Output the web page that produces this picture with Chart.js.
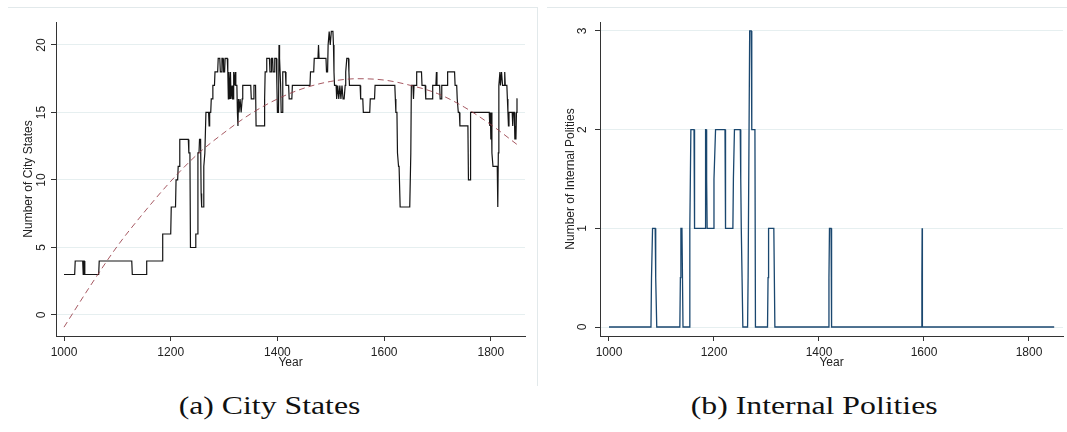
<!DOCTYPE html>
<html>
<head>
<meta charset="utf-8">
<script src="https://cdn.jsdelivr.net/npm/chart.js@4.4.1/dist/chart.umd.min.js"></script>
<style>
    html, body { margin: 0; padding: 0; background: #fff; }
    body { width: 1067px; height: 432px; position: relative; overflow: hidden; }
    .panel { position: absolute; top: 0; height: 385px; }
    .frame { position: absolute; border-color: #e2e9eb; border-style: solid; border-width: 0; }
    .caption { position: absolute; top: 392px; width: 400px; text-align: center;
               font-family: 'Liberation Serif', 'Times New Roman', serif; font-size: 25px; color: #111; }
    .caption span { display: inline-block; transform: scaleX(1.27); }
</style>
</head>
<body>
<div class="frame" style="left:8px; top:7px; width:529px; height:378px; border-top-width:1px; border-right-width:1px;"></div>
<div class="frame" style="left:547px; top:7px; width:520px; height:0; border-top-width:1px;"></div>

<div class="panel" style="left:0; width:538px;"><canvas id="cityChart" width="538" height="385"></canvas></div>
<div class="panel" style="left:540px; width:527px;"><canvas id="polityChart" width="527" height="385"></canvas></div>

<div class="caption" style="left:70px;"><span>(a) City States</span></div>
<div class="caption" style="left:614px;"><span>(b) Internal Polities</span></div>

<script>
// tick values
const yearTicks = [1000, 1200, 1400, 1600, 1800];
const cityTicks = [0, 5, 10, 15, 20];
const polityTicks = [0, 1, 2, 3];

// (a) number of city states
const cityYears = [
    1000, 1020, 1021, 1035, 1036, 1037, 1038, 1039, 1065, 1066, 1127, 1128, 1154, 1155, 1184, 1185,
    1200, 1201, 1209, 1210, 1213, 1214, 1216, 1217, 1233, 1234, 1236, 1237, 1246, 1247, 1250, 1251,
    1253, 1254, 1256, 1257, 1258, 1261, 1262, 1264, 1266, 1271, 1272, 1273, 1275, 1276, 1278, 1279,
    1282, 1283, 1288, 1289, 1292, 1293, 1295, 1296, 1298, 1299, 1301, 1302, 1306, 1307, 1308, 1309,
    1310, 1311, 1312, 1313, 1315, 1316, 1317, 1318, 1320, 1321, 1322, 1324, 1325, 1326, 1327, 1328,
    1330, 1332, 1334, 1335, 1350, 1351, 1355, 1356, 1359, 1360, 1375, 1376, 1377, 1379, 1380, 1385,
    1386, 1388, 1389, 1391, 1392, 1394, 1395, 1398, 1399, 1400, 1402, 1403, 1404, 1406, 1407, 1409,
    1410, 1415, 1416, 1421, 1422, 1427, 1428, 1461, 1462, 1468, 1469, 1476, 1477, 1478, 1491, 1492,
    1494, 1495, 1497, 1499, 1501, 1504, 1505, 1506, 1507, 1510, 1511, 1513, 1515, 1517, 1519, 1521,
    1523, 1525, 1527, 1528, 1530, 1533, 1534, 1535, 1555, 1556, 1560, 1561, 1573, 1574, 1582, 1583,
    1620, 1621, 1622, 1624, 1625, 1627, 1628, 1630, 1648, 1650, 1651, 1654, 1655, 1656, 1660, 1661,
    1670, 1671, 1677, 1678, 1690, 1691, 1697, 1698, 1699, 1704, 1705, 1707, 1708, 1718, 1719, 1732,
    1733, 1736, 1737, 1739, 1741, 1742, 1757, 1758, 1761, 1762, 1797, 1798, 1799, 1800, 1801, 1802,
    1804, 1812, 1813, 1814, 1815, 1817, 1818, 1820, 1822, 1825, 1826, 1827, 1830, 1831, 1832, 1833,
    1834, 1840, 1841, 1842, 1844, 1845, 1846, 1847, 1848, 1849, 1850
];
const cityCounts = [
    3, 3, 4, 4, 3, 4, 4, 3, 3, 4, 4, 3, 3, 4, 4, 6,
    6, 8, 8, 10, 10, 11, 11, 13, 13, 12, 12, 5, 5, 6, 6, 12,
    12, 13, 13, 9, 8, 8, 11, 12, 15, 15, 14, 15, 15, 16, 16, 17,
    17, 18, 18, 19, 19, 18, 18, 19, 19, 18, 18, 19, 19, 18, 16, 18,
    17, 16, 18, 16, 17, 16, 16, 18, 17, 18, 17, 17, 15, 14, 16, 15,
    16, 15, 16, 17, 17, 16, 16, 17, 17, 14, 14, 16, 18, 18, 19, 19,
    18, 18, 19, 19, 18, 18, 19, 19, 17, 15, 15, 20, 19, 17, 15, 15,
    18, 18, 17, 17, 16, 16, 17, 17, 18, 18, 19, 19, 20, 19, 19, 18,
    18, 20, 21, 20, 21, 21, 20, 18, 17, 17, 16, 17, 16, 17, 16, 17,
    16, 16, 17, 18, 19, 19, 18, 17, 17, 16, 16, 15, 15, 16, 16, 17,
    17, 16, 15, 15, 12, 11, 11, 8, 8, 12, 17, 17, 16, 17, 17, 18,
    18, 17, 17, 16, 16, 17, 17, 18, 17, 17, 16, 16, 17, 17, 18, 18,
    17, 17, 16, 15, 15, 14, 14, 10, 10, 15, 15, 14, 15, 13, 15, 12,
    11, 11, 8, 12, 17, 18, 17, 18, 17, 17, 18, 17, 17, 16, 15, 14,
    15, 15, 14, 15, 15, 13, 14, 13, 15, 16, 16
];

// quadratic trend line, every 50 years
const fitYears = [1000, 1050, 1100, 1150, 1200, 1250, 1300, 1350, 1400, 1450, 1500, 1550, 1600, 1650, 1700, 1750, 1800, 1850];
const fitValues = [-0.9, 2.2, 5.1, 7.6, 9.9, 11.9, 13.5, 14.9, 16.0, 16.8, 17.3, 17.5, 17.4, 17.0, 16.4, 15.4, 14.1, 12.6];

// (b) number of internal polities
const polityYears = [
    1000, 1080, 1081, 1083, 1088, 1089, 1091, 1135, 1136, 1137, 1139, 1140, 1141, 1153, 1154, 1156,
    1162, 1163, 1183, 1184, 1185, 1186, 1187, 1199, 1200, 1203, 1221, 1222, 1236, 1237, 1239, 1250,
    1251, 1252, 1253, 1255, 1264, 1265, 1268, 1271, 1272, 1278, 1279, 1302, 1303, 1304, 1314, 1316,
    1418, 1419, 1420, 1423, 1424, 1595, 1596, 1596.5, 1597, 1848
];
const polityCounts = [
    0, 0, 0.5, 1, 1, 0.5, 0, 0, 0.5, 1, 1, 0.5, 0, 0, 1, 2,
    2, 1, 1, 2, 2, 1.5, 1, 1, 1.5, 2, 2, 1, 1, 1.5, 2, 2,
    1.5, 1, 1, 0, 0, 0.5, 3, 3, 2, 2, 0, 0, 0.5, 1, 1, 0,
    0, 0.5, 1, 1, 0, 0, 0.5, 1, 0, 0
];

const FONT = 'Liberation Sans, Arial, sans-serif';
const AXIS = '#333';
const GRID = '#e6eff0';

function points(xs, ys) {
    return xs.map((x, i) => ({ x: x, y: ys[i] }));
}

const figurePage = {
    init() {
        Chart.defaults.font.family = FONT;
        Chart.defaults.color = '#222';
        this.buildCityChart();
        this.buildPolityChart();
    },

    xScale(min, max) {
        return {
            type: 'linear',
            min: min,
            max: max,
            afterBuildTicks: (s) => { s.ticks = yearTicks.map(v => ({ value: v })); },
            afterFit: (s) => { s.height = 49; },
            ticks: { autoSkip: false, maxRotation: 0, padding: 4, font: { size: 12 }, color: '#222',
                     callback: (v) => String(v) },
            grid: { drawOnChartArea: false, drawTicks: true, tickLength: 5, tickColor: AXIS },
            border: { display: true, color: AXIS, width: 1 },
            title: { display: true, text: 'Year', font: { size: 12 }, color: '#222', padding: { top: 0, bottom: 15 } }
        };
    },

    yScale(min, max, ticks, label, width, tickPad, titlePad) {
        return {
            type: 'linear',
            min: min,
            max: max,
            afterBuildTicks: (s) => { s.ticks = ticks.map(v => ({ value: v })); },
            afterFit: (s) => { s.width = width; },
            ticks: { autoSkip: false, minRotation: 90, maxRotation: 90, crossAlign: 'center',
                     padding: tickPad, font: { size: 12 }, color: '#222', callback: (v) => String(v) },
            grid: { color: GRID, lineWidth: 1, drawTicks: true, tickLength: 5, tickColor: AXIS },
            border: { display: true, color: AXIS, width: 1 },
            title: { display: true, text: label, font: { size: 12 }, color: '#222', padding: { top: titlePad, bottom: 0 } }
        };
    },

    baseOptions(padRight) {
        return {
            responsive: false,
            animation: false,
            layout: { padding: { left: 0, right: padRight, top: 22, bottom: 0 } },
            plugins: { legend: { display: false }, tooltip: { enabled: false } },
            elements: { point: { radius: 0 } }
        };
    },

    buildCityChart() {
        const ctx = document.getElementById('cityChart').getContext('2d');
        const options = this.baseOptions(13);
        options.scales = {
            x: this.xScale(985, 1864),
            y: this.yScale(-1.556, 21.7, cityTicks, 'Number of City States', 56, 3, 21)
        };
        new Chart(ctx, {
            type: 'line',
            data: {
                datasets: [
                    {
                        label: 'Fitted',
                        data: points(fitYears, fitValues),
                        borderColor: 'rgba(150, 60, 70, 0.85)',
                        borderWidth: 1,
                        borderDash: [6, 4],
                        cubicInterpolationMode: 'monotone',
                        fill: false
                    },
                    {
                        label: 'City States',
                        data: points(cityYears, cityCounts),
                        borderColor: '#141414',
                        borderWidth: 1.2,
                        tension: 0,
                        fill: false
                    }
                ]
            },
            options: options
        });
    },

    buildPolityChart() {
        const ctx = document.getElementById('polityChart').getContext('2d');
        const options = this.baseOptions(4);
        options.scales = {
            x: this.xScale(982.9, 1864.8),
            y: this.yScale(-0.091, 3.09, polityTicks, 'Number of Internal Polities', 60, 9, 23)
        };
        new Chart(ctx, {
            type: 'line',
            data: {
                datasets: [{
                    label: 'Internal Polities',
                    data: points(polityYears, polityCounts),
                    borderColor: '#1a476f',
                    borderWidth: 1.3,
                    tension: 0,
                    fill: false
                }]
            },
            options: options
        });
    }
};

figurePage.init();
</script>
</body>
</html>
